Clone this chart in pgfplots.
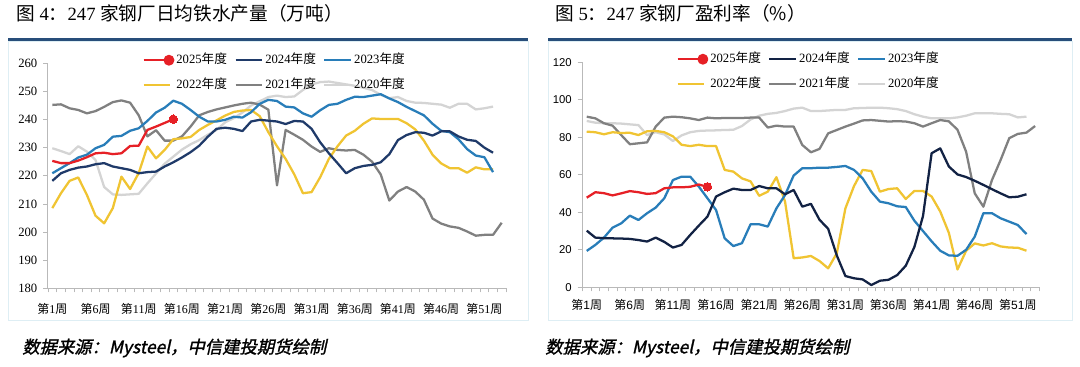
\documentclass[border=0pt]{standalone}
\usepackage{fontspec}
\setmainfont{Liberation Serif}
\newfontfamily\cjk{Noto Sans CJK SC}
\newfontfamily\cjksrc[FakeSlant=0.22,FakeBold=1.4]{Noto Sans CJK SC}
\newfontfamily\sansf{Liberation Sans}
\usepackage{pgfplots}
\pgfplotsset{compat=1.18}
\definecolor{c25}{RGB}{230,32,38}
\definecolor{c24}{RGB}{31,58,105}
\definecolor{c24r}{RGB}{18,34,68}
\definecolor{c23}{RGB}{40,125,185}
\definecolor{c22}{RGB}{240,196,50}
\definecolor{c21}{RGB}{128,128,128}
\definecolor{c20}{RGB}{212,212,212}
\definecolor{rulec}{RGB}{40,78,122}
\definecolor{axisgray}{RGB}{185,185,185}
\definecolor{framec}{RGB}{222,238,244}
\newcommand{\wk}[1]{{\cjk 第}#1{\cjk 周}}
\newcommand{\wks}[1]{{\cjk 第}{\sansf #1}{\cjk 周}}
\newcommand{\nd}[1]{#1{\cjk 年度}}
\pgfplotsset{
  panel/.style={
    scale only axis, height=168.75pt,
    xmin=0.5, xmax=53.5,
    axis x line*=bottom, axis y line*=left,
    axis line style={axisgray, line width=0.75pt},
    xtick={1,6,...,51},
    minor xtick={0.5,1.5,...,53.5},
    major x tick style={draw=none},
    minor tick length=3pt, major tick length=3.5pt,
    tick align=outside,
    tick style={axisgray, line width=0.6pt},
    /pgf/number format/assume math mode=true,
    legend columns=3,
    legend image code/.code={\draw[#1] (0pt,0pt) -- (20pt,0pt);},
    legend style={draw=none, fill=none, inner sep=0pt, anchor=north,
      font=\fontsize{9.5}{11}\selectfont,
      /tikz/every even column/.append style={column sep=4pt},
      row sep=6.5pt,
      nodes={inner sep=1.5pt, text height=7pt, text depth=2pt}},
    every axis plot/.append style={line width=1.7pt, line join=round},
  }
}
\begin{document}
\begin{tikzpicture}
\begin{scope}[x=0.75pt,y=0.75pt]
\path[use as bounding box, fill=white] (0,0) rectangle (1080,367);
\draw[framec, line width=0.6pt] (8,47) rectangle (528,326);
\draw[framec, line width=0.6pt] (548,47) rectangle (1072,326);
\draw[rulec, line width=2.2pt] (8,327.8) -- (528,327.8);
\draw[rulec, line width=2.2pt] (548,327.8) -- (1072,327.8);
\node[anchor=west, inner sep=0pt, font=\fontsize{14}{16}\selectfont] at (16,354) {{\cjk 图} 4{\cjk ：}247 {\cjk 家钢厂日均铁水产量（万吨）}};
\node[anchor=west, inner sep=0pt, font=\fontsize{14}{16}\selectfont] at (555,354) {{\cjk 图} 5{\cjk ：}247 {\cjk 家钢厂盈利率（\%）}};
\node[anchor=west, inner sep=0pt, font=\fontsize{13}{15}\selectfont] at (22,19) {\cjksrc 数据来源：Mysteel，中信建投期货绘制};
\node[anchor=west, inner sep=0pt, font=\fontsize{13}{15}\selectfont] at (545,19) {\cjksrc 数据来源：Mysteel，中信建投期货绘制};
\end{scope}

% ---------- left panel ----------
\begin{axis}[panel, at={(36pt,59.03pt)}, anchor=south west, width=343.5pt,
  ymin=180, ymax=260, ytick={180,190,...,260},
  yticklabel style={font=\fontsize{9.5}{10}\selectfont, xshift=-1pt},
  xticklabels={\wk{1},\wk{6},\wk{11},\wk{16},\wk{21},\wk{26},\wk{31},\wk{36},\wk{41},\wk{46},\wk{51}},
  xticklabel style={font=\fontsize{9}{10}\selectfont, yshift=-4pt},
  legend style={at={(axis description cs:0.495,1)}, yshift=8.5pt}]
\addlegendimage{legend image code/.code={\draw[c25,line width=1.7pt] (0pt,0pt) -- (19pt,0pt); \fill[c25] (19pt,0pt) circle (3.2pt);}}
\addlegendentry{\nd{2025}}
\addlegendimage{c24, line width=1.7pt}\addlegendentry{\nd{2024}}
\addlegendimage{c23, line width=1.7pt}\addlegendentry{\nd{2023}}
\addlegendimage{c22, line width=1.7pt}\addlegendentry{\nd{2022}}
\addlegendimage{c21, line width=1.7pt}\addlegendentry{\nd{2021}}
\addlegendimage{c20, line width=1.7pt}\addlegendentry{\nd{2020}}
\addplot[c20, forget plot] coordinates {(1,229.8)(2,228.8)(3,227.7)(4,230.5)(5,228.6)(6,225.6)(7,216.0)(8,213.4)(9,213.2)(10,213.4)(11,213.6)(12,217.3)(13,220.8)(14,224.3)(15,226.8)(16,229.3)(17,231.2)(18,232.7)(19,234.6)(20,236.3)(21,239.0)(22,240.5)(23,242.5)(24,245.0)(25,246.5)(26,248.0)(27,248.5)(28,248.0)(29,248.2)(30,250.5)(31,252.5)(32,253.3)(33,253.5)(34,253.0)(35,252.5)(36,252.0)(37,251.3)(38,250.5)(39,248.8)(40,247.6)(41,248.0)(42,246.6)(43,246.0)(44,245.9)(45,245.6)(46,245.3)(47,244.2)(48,245.6)(49,245.6)(50,243.6)(51,244.0)(52,244.6)};
\addplot[c21, forget plot] coordinates {(1,245.2)(2,245.4)(3,244.0)(4,243.4)(5,242.2)(6,243.0)(7,244.5)(8,246.2)(9,246.8)(10,246.0)(11,241.5)(12,234.0)(13,236.2)(14,232.5)(15,232.5)(16,234.0)(17,237.5)(18,241.5)(19,242.7)(20,243.6)(21,244.3)(22,245.0)(23,245.6)(24,246.0)(25,245.3)(26,243.5)(27,216.6)(28,236.3)(29,234.6)(30,232.8)(31,230.4)(32,228.5)(33,229.8)(34,229.2)(35,229.0)(36,229.2)(37,227.5)(38,225.0)(39,220.5)(40,211.2)(41,214.4)(42,216.0)(43,214.4)(44,211.5)(45,204.8)(46,203.0)(47,202.0)(48,201.5)(49,200.2)(50,198.7)(51,199.0)(52,199.0)(53,203.3)};
\addplot[c22, forget plot] coordinates {(1,208.5)(2,213.8)(3,218.2)(4,219.4)(5,213.2)(6,205.8)(7,203.1)(8,208.5)(9,219.7)(10,215.3)(11,221.0)(12,230.4)(13,226.2)(14,229.2)(15,233.0)(16,233.3)(17,233.8)(18,236.3)(19,238.1)(20,239.7)(21,241.4)(22,242.7)(23,243.2)(24,243.4)(25,241.2)(26,235.5)(27,230.5)(28,226.0)(29,220.5)(30,213.8)(31,214.2)(32,219.5)(33,226.0)(34,230.5)(35,234.3)(36,236.0)(37,238.5)(38,240.4)(39,240.2)(40,240.2)(41,240.2)(42,238.7)(43,236.5)(44,232.5)(45,227.5)(46,224.4)(47,222.7)(48,222.7)(49,221.1)(50,223.0)(51,222.3)(52,222.3)};
\addplot[c23, forget plot] coordinates {(1,220.9)(2,222.7)(3,224.5)(4,226.5)(5,227.5)(6,229.8)(7,231.0)(8,233.9)(9,234.2)(10,236.0)(11,236.9)(12,239.5)(13,242.5)(14,244.2)(15,246.7)(16,245.6)(17,243.4)(18,241.0)(19,239.3)(20,239.3)(21,239.9)(22,241.0)(23,240.7)(24,242.6)(25,245.6)(26,247.0)(27,246.6)(28,244.6)(29,244.3)(30,242.2)(31,241.0)(32,243.3)(33,245.2)(34,245.6)(35,247.0)(36,248.1)(37,248.0)(38,248.5)(39,249.0)(40,247.5)(41,246.2)(42,244.5)(43,243.0)(44,241.5)(45,238.5)(46,236.0)(47,235.5)(48,233.0)(49,229.5)(50,227.2)(51,226.6)(52,221.3)};
\addplot[c24, forget plot] coordinates {(1,218.2)(2,220.9)(3,222.1)(4,222.9)(5,223.3)(6,224.1)(7,224.5)(8,223.3)(9,222.7)(10,222.1)(11,220.9)(12,221.3)(13,221.5)(14,223.3)(15,224.8)(16,226.5)(17,228.4)(18,230.7)(19,233.9)(20,236.7)(21,237.1)(22,236.7)(23,235.9)(24,239.3)(25,239.9)(26,239.6)(27,239.3)(28,238.4)(29,239.5)(30,239.3)(31,236.7)(32,231.9)(33,228.0)(34,224.5)(35,220.9)(36,222.7)(37,223.5)(38,223.9)(39,224.8)(40,227.7)(41,232.7)(42,234.5)(43,235.5)(44,235.3)(45,234.3)(46,235.8)(47,235.8)(48,234.0)(49,232.8)(50,232.4)(51,230.0)(52,228.2)};
\addplot[c25, forget plot, mark=*, mark indices={15}, mark size=3.2pt, mark options={fill=c25, draw=c25, line width=0pt}] coordinates {(1,225.3)(2,224.5)(3,224.5)(4,225.4)(5,226.6)(6,228.0)(7,228.2)(8,227.7)(9,228.0)(10,230.6)(11,230.7)(12,236.3)(13,237.5)(14,238.8)(15,240.1)};
\end{axis}

% ---------- right panel ----------
\begin{axis}[panel, at={(436.8pt,59.78pt)}, anchor=south west, width=342.75pt,
  ymin=0, ymax=120, ytick={0,20,...,120},
  yticklabel style={font=\sansf\fontsize{8.5}{10}\selectfont, xshift=-1pt},
  xticklabels={\wks{1},\wks{6},\wks{11},\wks{16},\wks{21},\wks{26},\wks{31},\wks{36},\wks{41},\wks{46},\wks{51}},
  xticklabel style={font=\fontsize{9}{10}\selectfont, yshift=-2pt},
  legend style={at={(axis description cs:0.495,1)}, yshift=8.5pt}]
\addlegendimage{legend image code/.code={\draw[c25,line width=1.7pt] (0pt,0pt) -- (19pt,0pt); \fill[c25] (19pt,0pt) circle (3.2pt);}}
\addlegendentry{\nd{2025}}
\addlegendimage{c24r, line width=1.7pt}\addlegendentry{\nd{2024}}
\addlegendimage{c23, line width=1.7pt}\addlegendentry{\nd{2023}}
\addlegendimage{c22, line width=1.7pt}\addlegendentry{\nd{2022}}
\addlegendimage{c21, line width=1.7pt}\addlegendentry{\nd{2021}}
\addlegendimage{c20, line width=1.7pt}\addlegendentry{\nd{2020}}
\addplot[c20, forget plot] coordinates {(1,88.7)(2,87.8)(3,87.5)(4,87.5)(5,87.3)(6,86.9)(7,86.5)(8,81.2)(9,82.7)(10,81.5)(11,78.0)(12,81.0)(13,82.7)(14,83.4)(15,83.6)(16,83.7)(17,83.9)(18,84.0)(19,86.0)(20,89.5)(21,91.5)(22,92.5)(23,93.0)(24,94.0)(25,95.3)(26,95.8)(27,94.0)(28,94.0)(29,94.3)(30,94.6)(31,94.6)(32,95.5)(33,95.6)(34,95.8)(35,95.8)(36,95.5)(37,95.0)(38,94.0)(39,92.3)(40,91.0)(41,90.1)(42,90.1)(43,90.1)(44,90.6)(45,91.5)(46,92.8)(47,92.8)(48,92.8)(49,92.5)(50,92.3)(51,90.6)(52,91.0)};
\addplot[c21, forget plot] coordinates {(1,91.0)(2,90.1)(3,87.5)(4,86.2)(5,81.2)(6,76.3)(7,76.8)(8,77.3)(9,85.7)(10,90.5)(11,91.0)(12,90.7)(13,90.1)(14,89.2)(15,90.5)(16,90.1)(17,90.3)(18,90.3)(19,90.3)(20,90.5)(21,90.5)(22,85.2)(23,86.2)(24,85.7)(25,85.7)(26,75.9)(27,72.0)(28,73.8)(29,82.1)(30,83.9)(31,85.7)(32,87.3)(33,89.0)(34,89.2)(35,88.8)(36,88.4)(37,88.6)(38,88.4)(39,87.5)(40,85.7)(41,87.5)(42,89.2)(43,88.5)(44,84.0)(45,72.3)(46,50.1)(47,43.0)(48,57.2)(49,67.9)(50,79.5)(51,81.8)(52,82.5)(53,86.0)};
\addplot[c22, forget plot] coordinates {(1,83.0)(2,82.7)(3,81.6)(4,82.7)(5,82.3)(6,82.4)(7,81.2)(8,83.2)(9,83.4)(10,82.7)(11,80.5)(12,76.0)(13,75.3)(14,76.0)(15,75.3)(16,75.3)(17,62.6)(18,61.7)(19,58.1)(20,56.5)(21,48.8)(22,51.0)(23,58.7)(24,45.7)(25,15.5)(26,15.9)(27,16.7)(28,14.0)(29,10.1)(30,18.1)(31,42.1)(32,54.0)(33,62.6)(34,62.0)(35,51.0)(36,52.4)(37,52.8)(38,47.1)(39,51.4)(40,51.4)(41,48.4)(42,40.4)(43,29.0)(44,9.5)(45,19.5)(46,23.4)(47,22.3)(48,23.5)(49,21.8)(50,21.2)(51,21.1)(52,19.5)};
\addplot[c23, forget plot] coordinates {(1,19.4)(2,22.6)(3,26.5)(4,31.8)(5,34.1)(6,38.2)(7,35.9)(8,39.5)(9,42.5)(10,47.5)(11,57.2)(12,59.0)(13,59.0)(14,53.7)(15,47.5)(16,41.2)(17,26.1)(18,22.0)(19,23.5)(20,33.6)(21,33.6)(22,32.4)(23,42.1)(24,49.2)(25,59.6)(26,63.5)(27,63.5)(28,63.8)(29,63.8)(30,64.2)(31,64.7)(32,62.6)(33,58.1)(34,51.0)(35,45.7)(36,44.8)(37,43.2)(38,42.8)(39,35.5)(40,30.0)(41,24.5)(42,19.5)(43,17.0)(44,16.8)(45,20.0)(46,27.0)(47,39.5)(48,39.5)(49,36.8)(50,35.0)(51,33.2)(52,28.4)};
\addplot[c24r, forget plot] coordinates {(1,30.2)(2,26.5)(3,26.2)(4,26.1)(5,26.0)(6,25.8)(7,25.2)(8,24.4)(9,26.5)(10,24.2)(11,21.2)(12,22.6)(13,27.9)(14,32.9)(15,37.7)(16,48.4)(17,50.7)(18,52.6)(19,51.9)(20,51.9)(21,54.0)(22,52.8)(23,52.8)(24,49.6)(25,51.9)(26,43.0)(27,44.5)(28,36.0)(29,31.2)(30,17.0)(31,6.0)(32,4.8)(33,4.2)(34,1.2)(35,3.5)(36,4.0)(37,6.5)(38,11.5)(39,21.5)(40,38.0)(41,71.5)(42,74.1)(43,64.4)(44,60.2)(45,58.8)(46,56.8)(47,54.6)(48,52.3)(49,50.1)(50,48.0)(51,48.3)(52,49.6)};
\addplot[c25, forget plot, mark=*, mark indices={15}, mark size=3.2pt, mark options={fill=c25, draw=c25, line width=0pt}] coordinates {(1,47.8)(2,50.7)(3,50.2)(4,49.0)(5,50.1)(6,51.3)(7,50.7)(8,49.8)(9,50.2)(10,52.8)(11,53.3)(12,53.3)(13,53.6)(14,54.8)(15,53.6)};
\end{axis}
\end{tikzpicture}
\end{document}
